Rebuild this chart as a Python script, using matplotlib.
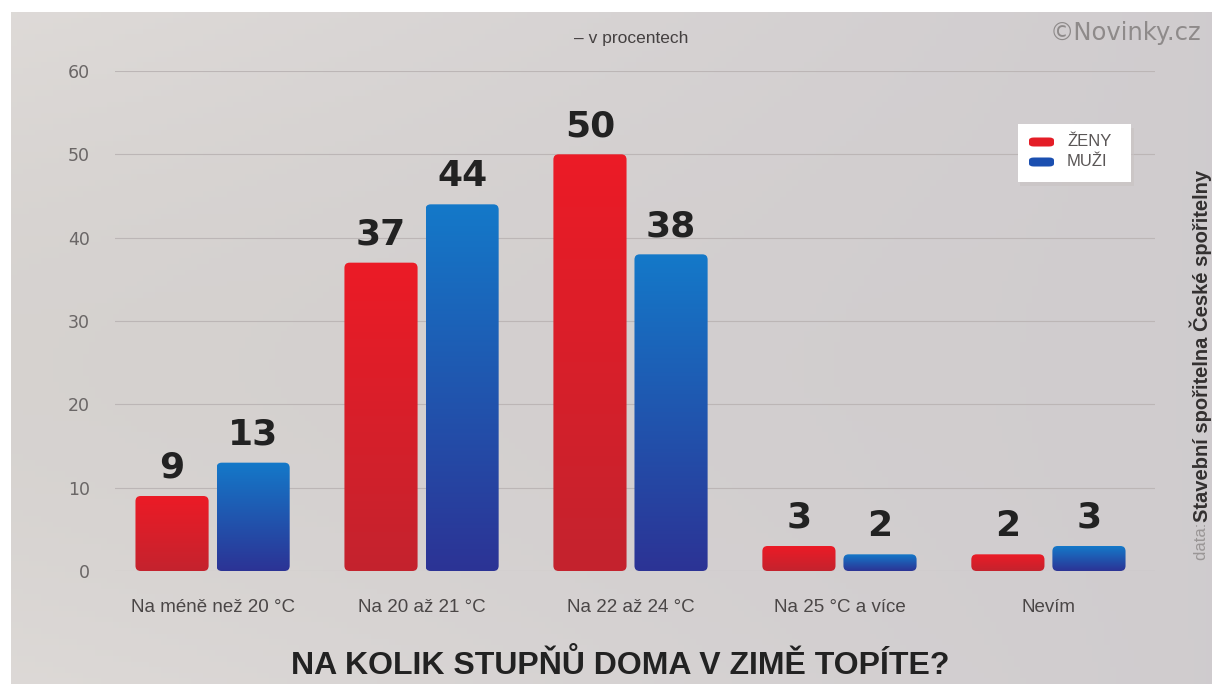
import numpy as np
import matplotlib
matplotlib.use("Agg")
import matplotlib.pyplot as plt
from matplotlib.colors import LinearSegmentedColormap
from matplotlib.patches import FancyBboxPatch, Rectangle

categories = ["Na méně než 20 °C", "Na 20 až 21 °C", "Na 22 až 24 °C", "Na 25 °C a více", "Nevím"]
zeny = [9, 37, 50, 3, 2]
muzi = [13, 44, 38, 2, 3]
series_names = ["ŽENY", "MUŽI"]
yticks = [0, 10, 20, 30, 40, 50, 60]

W, H = 1212, 684
fig = plt.figure(figsize=(W / 100, H / 100), dpi=100)
fig.patch.set_facecolor("white")

# background panel with soft gradient
bg_ax = fig.add_axes([11 / W, 0, 1 - 11 / W, 1 - 12 / H])
bg_ax.set_axis_off()
gx = np.linspace(0, 1, 200)
gy = np.linspace(0, 1, 120)
GX, GY = np.meshgrid(gx, gy)
base = np.array([0.87, 0.855, 0.845])
img = np.zeros((120, 200, 3))
shade = 0.055 * GX + 0.03 * np.sin(GY * 3.0) * (1 - GX)
for c in range(3):
    img[:, :, c] = base[c] - shade
img[:, :, 2] += 0.02 * GX
img = np.clip(img, 0, 1)
bg_ax.imshow(img, aspect="auto", extent=[0, 1, 0, 1], origin="upper")

ax = fig.add_axes([115 / W, (H - 571) / H, (1155 - 115) / W, (571 - 71) / H])
ax.set_facecolor("none")
for s in ax.spines.values():
    s.set_visible(False)
ax.set_yticks(yticks)
ax.set_yticklabels([str(t) for t in yticks], fontsize=12.5, color="#6a6666", family="DejaVu Sans")
ax.tick_params(axis="y", length=0, pad=18)
ax.tick_params(axis="x", length=0, pad=20)
ax.grid(axis="y", color="#bcb6b6", linewidth=0.8)
ax.set_axisbelow(True)

x = np.arange(len(categories))
bw = 0.35
off = 0.194

red_cmap = LinearSegmentedColormap.from_list("r", ["#ec1b26", "#c4232e"])
blue_cmap = LinearSegmentedColormap.from_list("b", ["#1479c9", "#2c3395"])

def gradient_bars(vals, xpos, cmap, label):
    bars = ax.bar(xpos, vals, width=bw, color="none", edgecolor="none", label=label, zorder=2)
    grad = np.linspace(0, 1, 256).reshape(-1, 1)
    for b in bars:
        bx, by = b.get_x(), b.get_y()
        w, h = b.get_width(), b.get_height()
        patch = FancyBboxPatch((bx, by), w, h,
                               boxstyle="round,pad=0,rounding_size=0.025",
                               mutation_aspect=60 / 500 * 209,
                               transform=ax.transData, facecolor="none", edgecolor="none")
        ax.add_patch(patch)
        im = ax.imshow(grad, cmap=cmap, aspect="auto", extent=[bx, bx + w, by, by + h],
                       origin="upper", zorder=3)
        im.set_clip_path(patch)
    return bars

gradient_bars(zeny, x - off, red_cmap, series_names[0])
gradient_bars(muzi, x + off, blue_cmap, series_names[1])
ax.set_xlim(-0.467, 4.51)
ax.set_ylim(0, 60)

for xs, vals in ((x - off, zeny), (x + off, muzi)):
    for xi, v in zip(xs, vals):
        ax.annotate(str(v), (xi, v), xytext=(0, 8), textcoords="offset points", ha="center", va="bottom",
                    fontsize=26, fontweight="bold", color="#222222", family="DejaVu Sans", zorder=5)

ax.set_xticks(x)
ax.set_xticklabels(categories, fontsize=13.5, color="#4a4646",
                   family=["Liberation Sans Narrow", "Liberation Sans"])

# legend
fig.patches.append(Rectangle((1020 / W, 1 - 186 / H), 114 / W, 58 / H, transform=fig.transFigure,
                             facecolor="#c8c2c2", edgecolor="none", zorder=1, alpha=0.6))
fig.patches.append(Rectangle((1018 / W, 1 - 182 / H), 113 / W, 58 / H, transform=fig.transFigure,
                             facecolor="white", edgecolor="none", zorder=2))
for i, (name, col) in enumerate(zip(series_names, ["#e41d27", "#1b4fb0"])):
    yc = 142 + i * 20
    fig.patches.append(FancyBboxPatch((1029 / W, 1 - (yc + 4.5) / H), 25 / W, 9 / H,
                                      boxstyle="round,pad=0,rounding_size=0.004",
                                      transform=fig.transFigure, facecolor=col, edgecolor="none", zorder=3))
    fig.text(1067 / W, 1 - yc / H, name, fontsize=12, color="#5a5656", va="center", ha="left",
             family="Liberation Sans", zorder=4)

# texts
fig.text(631 / W, 1 - 38 / H, "– v procentech", fontsize=12.5, color="#444040", ha="center", va="center",
         family=["Liberation Sans Narrow", "Liberation Sans"])
fig.text(1050 / W, 1 - 33 / H, "©Novinky.cz", fontsize=17.5, color="#8e8a8a", ha="left", va="center",
         family="DejaVu Sans")
fig.text(620 / W, 1 - 665 / H, "NA KOLIK STUPŇŮ DOMA V ZIMĚ TOPÍTE?", fontsize=23, fontweight="bold",
         color="#222222", ha="center", va="center", family="Liberation Sans")
fig.text(1201 / W, 1 - 560 / H, "data: ", fontsize=12, color="#9a9696", rotation=90, ha="center", va="bottom",
         family="Liberation Sans")
fig.text(1201 / W, 1 - 522 / H, "Stavební spořitelna České spořitelny", fontsize=14.5, fontweight="bold",
         color="#333030", rotation=90, ha="center", va="bottom", family="Liberation Sans")

fig.savefig("out.png", dpi=100, facecolor=fig.get_facecolor())
